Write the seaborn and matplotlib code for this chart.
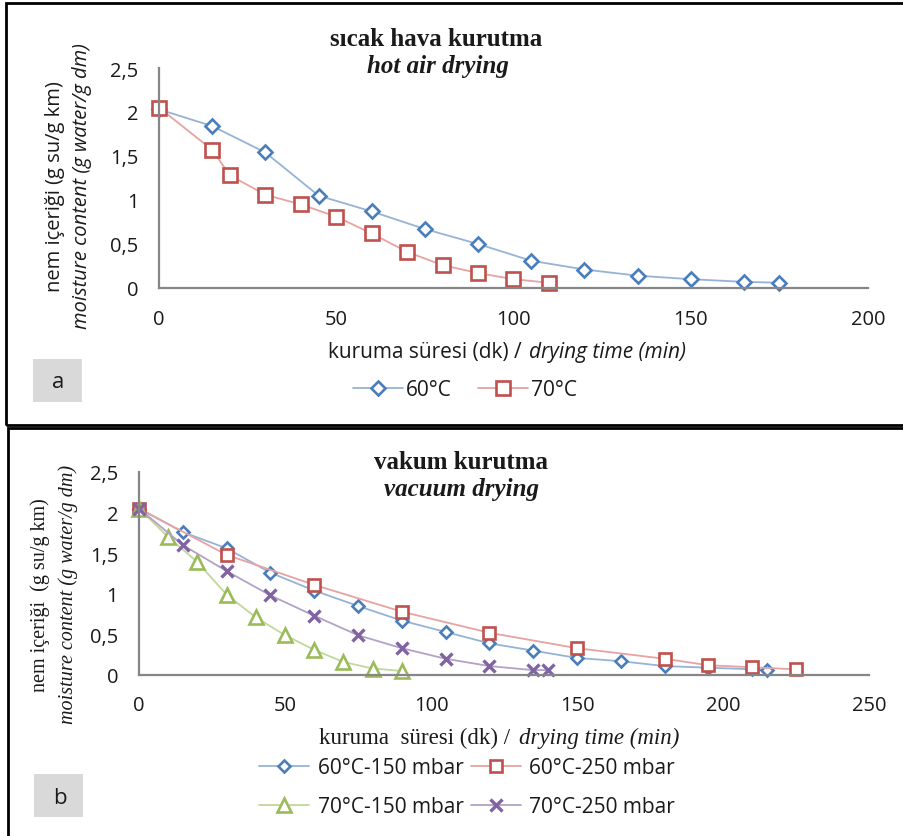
import matplotlib
matplotlib.use("Agg")
import matplotlib.pyplot as plt
import seaborn as sns
import pandas as pd
from matplotlib.lines import Line2D
from matplotlib.patches import Rectangle

# ---------------- data ----------------
# panel a: hot air drying
a60_t = [0, 15, 30, 45, 60, 75, 90, 105, 120, 135, 150, 165, 175]
a60_m = [2.03, 1.84, 1.54, 1.05, 0.87, 0.67, 0.50, 0.31, 0.21, 0.14, 0.10, 0.07, 0.06]
a70_t = [0, 15, 20, 30, 40, 50, 60, 70, 80, 90, 100, 110]
a70_m = [2.05, 1.57, 1.28, 1.06, 0.95, 0.81, 0.62, 0.41, 0.26, 0.17, 0.10, 0.06]

# panel b: vacuum drying
b60_150_t = [0, 15, 30, 45, 60, 75, 90, 105, 120, 135, 150, 165, 180, 195, 210, 215]
b60_150_m = [2.05, 1.76, 1.56, 1.26, 1.04, 0.85, 0.67, 0.53, 0.39, 0.30, 0.21, 0.17, 0.11, 0.09, 0.07, 0.06]
b60_250_t = [0, 30, 60, 90, 120, 150, 180, 195, 210, 225]
b60_250_m = [2.05, 1.48, 1.11, 0.78, 0.52, 0.33, 0.20, 0.12, 0.095, 0.07]
b70_150_t = [0, 10, 20, 30, 40, 50, 60, 70, 80, 90]
b70_150_m = [2.05, 1.70, 1.39, 0.99, 0.71, 0.49, 0.31, 0.16, 0.08, 0.05]
b70_250_t = [0, 15, 30, 45, 60, 75, 90, 105, 120, 135, 140]
b70_250_m = [2.05, 1.60, 1.28, 0.98, 0.73, 0.49, 0.33, 0.20, 0.11, 0.06, 0.06]

a_labels = ["60°C", "70°C"]
b_labels = ["60°C-150 mbar", "60°C-250 mbar", "70°C-150 mbar", "70°C-250 mbar"]
y_ticks = [0, 0.5, 1, 1.5, 2, 2.5]
y_ticklabels = ["0", "0,5", "1", "1,5", "2", "2,5"]
a_xticks = [0, 50, 100, 150, 200]
b_xticks = [0, 50, 100, 150, 200, 250]

# ---------------- style ----------------
sns.set_style("white")
plt.rcParams['font.family'] = ['Open Sans', 'DejaVu Sans']

W, H = 904, 837
fig = plt.figure(figsize=(W / 100, H / 100), dpi=100)

def P(x, y):
    return (x / W, 1 - y / H)

def add_axes_px(x0, y0, x1, y1):
    return fig.add_axes([x0 / W, 1 - y1 / H, (x1 - x0) / W, (y1 - y0) / H])

SPINE = "#868686"
TXT = "#1a1a1a"
BLUE, BLUE_L = "#4A7EBB", "#95B3D7"
RED, RED_L = "#C0504D", "#E6A3A2"
GREEN, GREEN_L = "#9BBB59", "#C3D69B"
PURP, PURP_L = "#8064A2", "#B3A2C7"
SANS = 14.5
TITLE = 18

def style_axes(ax, xticks, xmax, ticks_on, xpad, ypad):
    ax.set_xlim(0, xmax)
    ax.set_ylim(0, 2.5)
    ax.set_xticks(xticks)
    ax.set_xticklabels([str(v) for v in xticks])
    ax.set_yticks(y_ticks)
    ax.set_yticklabels(y_ticklabels)
    for s in ["top", "right"]:
        ax.spines[s].set_visible(False)
    for s in ["left", "bottom"]:
        ax.spines[s].set_color(SPINE)
        ax.spines[s].set_linewidth(1.6)
    L = 4.3 if ticks_on else 0
    ax.tick_params(axis="x", length=L, width=1.4, color=SPINE, direction="out",
                   pad=xpad, labelsize=SANS, labelcolor=TXT)
    ax.tick_params(axis="y", length=L, width=1.4, color=SPINE, direction="out",
                   pad=ypad, labelsize=SANS, labelcolor=TXT)
    ax.set_xlabel("")
    ax.set_ylabel("")
    ax.patch.set_alpha(0)

def series(ax, t, m, lc, mc, marker, ms, mew=1.9):
    df = pd.DataFrame({"t": t, "m": m})
    sns.lineplot(data=df, x="t", y="m", ax=ax, color=lc, lw=1.3, marker=marker,
                 markersize=ms, markeredgecolor=mc, markerfacecolor="white",
                 markeredgewidth=mew, clip_on=False, legend=False)

def handle(lc, mc, marker, ms, mew=1.9):
    return Line2D([], [], color=lc, lw=1.3, marker=marker, markersize=ms,
                  markeredgecolor=mc, markerfacecolor="white", markeredgewidth=mew)

# ---------------- frames ----------------
fig.add_artist(Rectangle(P(6, 426), (W + 10 - 6) / W, (426 - 4) / H, transform=fig.transFigure,
                         fill=False, ec="black", lw=2.0, zorder=0))
fig.add_artist(Rectangle(P(8, H + 10), (W + 10 - 8) / W, (H + 10 - 429) / H, transform=fig.transFigure,
                         fill=False, ec="black", lw=2.0, zorder=0))

# ---------------- panel a ----------------
ax1 = add_axes_px(159, 69, 868, 289)
series(ax1, a60_t, a60_m, BLUE_L, BLUE, "D", 7.4)
series(ax1, a70_t, a70_m, RED_L, RED, "s", 9.8)
style_axes(ax1, a_xticks, 200, True, 10.5, 10.5)

fig.text(*P(436, 40), "sıcak hava kurutma", ha="center", va="center",
         family="Liberation Serif", fontweight="bold", fontsize=TITLE, color=TXT)
fig.text(*P(438, 66), "hot air drying", ha="center", va="center",
         family="Liberation Serif", fontweight="bold", style="italic", fontsize=TITLE, color=TXT)
fig.text(*P(55, 187), "nem içeriği (g su/g km)", rotation=90, ha="center", va="center",
         fontsize=SANS, color=TXT)
fig.text(*P(82, 186), "moisture content (g water/g dm)", rotation=90, ha="center", va="center",
         fontsize=SANS, style="italic", color=TXT)
fig.text(*P(527, 353), "kuruma süresi (dk) / ", ha="right", va="center", fontsize=15, color=TXT)
fig.text(*P(529, 353), "drying time (min)", ha="left", va="center", fontsize=15,
         style="italic", color=TXT)

fig.add_artist(Rectangle(P(33, 403), 49 / W, 43 / H, transform=fig.transFigure,
                         fc="#D9D9D9", ec="none"))
fig.text(*P(58, 383), "a", ha="center", va="center", fontsize=16, color=TXT)

fig.legend([handle(BLUE_L, BLUE, "D", 7.4), handle(RED_L, RED, "s", 9.8)], a_labels,
           loc="center", bbox_to_anchor=P(465, 391), ncol=2, frameon=False,
           fontsize=15, handlelength=2.4, handletextpad=0.15, columnspacing=1.25,
           labelcolor=TXT)

# ---------------- panel b ----------------
ax2 = add_axes_px(139, 473, 869, 676)
series(ax2, b60_150_t, b60_150_m, BLUE_L, BLUE, "D", 6.6)
series(ax2, b60_250_t, b60_250_m, RED_L, RED, "s", 9.2)
series(ax2, b70_150_t, b70_150_m, GREEN_L, GREEN, "^", 9.8)
series(ax2, b70_250_t, b70_250_m, PURP_L, PURP, "x", 9.2, mew=2.4)
style_axes(ax2, b_xticks, 250, False, 14.5, 15)

fig.text(*P(461, 463), "vakum kurutma", ha="center", va="center",
         family="Liberation Serif", fontweight="bold", fontsize=TITLE, color=TXT)
fig.text(*P(462, 490), "vacuum drying", ha="center", va="center",
         family="Liberation Serif", fontweight="bold", style="italic", fontsize=TITLE, color=TXT)
fig.text(*P(40, 595), "nem içeriği  (g su/g km)", rotation=90, ha="center", va="center",
         family="Liberation Serif", fontsize=14.5, color=TXT)
fig.text(*P(68, 594), "moisture content (g water/g dm)", rotation=90, ha="center", va="center",
         family="Liberation Serif", fontsize=14.5, style="italic", color=TXT)
fig.text(*P(516, 738), "kuruma  süresi (dk) / ", ha="right", va="center",
         family="Liberation Serif", fontsize=16.5, color=TXT)
fig.text(*P(519, 738), "drying time (min)", ha="left", va="center",
         family="Liberation Serif", fontsize=16.5, style="italic", color=TXT)

fig.add_artist(Rectangle(P(34, 818), 49 / W, 43 / H, transform=fig.transFigure,
                         fc="#D9D9D9", ec="none"))
fig.text(*P(60, 799), "b", ha="center", va="center", fontsize=16, color=TXT)

hb = [handle(BLUE_L, BLUE, "D", 6.6), handle(RED_L, RED, "s", 9.2),
      handle(GREEN_L, GREEN, "^", 9.8), handle(PURP_L, PURP, "x", 9.2, mew=2.4)]
# legend fills column-major, so reorder to get rows: (60/150, 60/250), (70/150, 70/250)
order = [0, 2, 1, 3]
fig.legend([hb[i] for i in order], [b_labels[i] for i in order],
           loc="center", bbox_to_anchor=P(467, 788), ncol=2, frameon=False,
           fontsize=15, handlelength=2.4, handletextpad=0.4, columnspacing=0.35,
           labelspacing=0.85, labelcolor=TXT)

fig.savefig("out.png", dpi=100)
